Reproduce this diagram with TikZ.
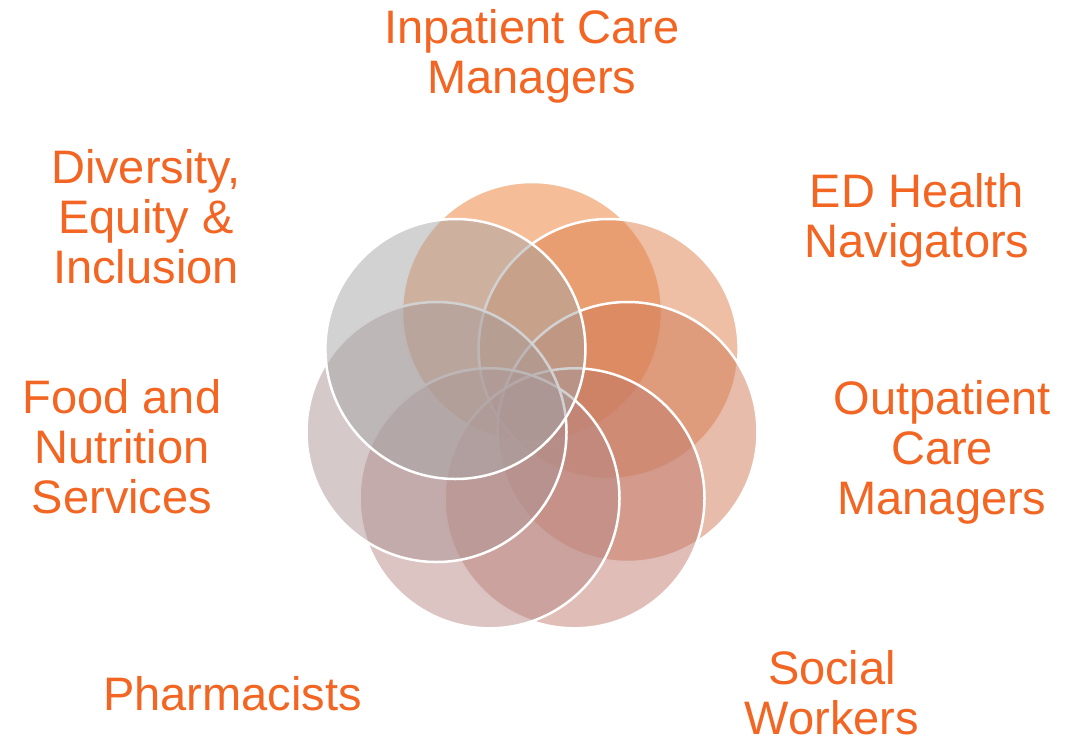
\documentclass[tikz,border=0pt]{standalone}
\usepackage{fontspec}
\setmainfont{Liberation Sans}
\usepackage{tikz}
\usetikzlibrary{positioning}

\definecolor{labelorange}{HTML}{F26522}
\definecolor{inpatient}{HTML}{ED7D31}
\definecolor{ednav}{HTML}{DD7F4B}
\definecolor{outpatient}{HTML}{D17955}
\definecolor{social}{HTML}{C17B6F}
\definecolor{pharma}{HTML}{B78985}
\definecolor{food}{HTML}{AD9395}
\definecolor{diversity}{HTML}{A5A5A5}

\tikzset{
    ring/.style={circle, draw=white, line width=2.5pt, fill opacity=0.5, draw opacity=1, minimum size=260pt, inner sep=0pt},
    label/.style={text=labelorange, align=center, inner sep=0pt, font=\fontsize{47}{50}\selectfont}
}

\begin{document}
\begin{tikzpicture}[x=1pt, y=-1pt]
    \useasboundingbox (0,0) rectangle (1081,739);

    % circles, clockwise from the top
    \node [ring, fill=inpatient] (inpatientc) at (532,312) {};
    \node [ring, fill=ednav] (ednavc) at (608.6,349) {};
    \node [ring, fill=outpatient] (outpatientc) at (627.5,432) {};
    \node [ring, fill=social] (socialc) at (574.5,498.3) {};
    \node [ring, fill=pharma] (pharmac) at (489.5,498.3) {};
    \node [ring, fill=food] (foodc) at (436.5,432) {};
    \node [ring, fill=diversity] (diversityc) at (455.4,349) {};

    % labels
    \node [label] (inpatient) at (532,56.4) {Inpatient Care\\Managers};
    \node [label] (ednav) at (917,220) {ED Health\\Navigators};
    \node [label] (outpatient) at (942,452) {Outpatient\\Care\\Managers};
    \node [label] (social) at (832,692.5) {Social\\Workers};
    \node [label] (pharma) at (232.5,694) {Pharmacists};
    \node [label] (food) at (122,446.5) {Food and\\Nutrition\\Services};
    \node [label] (diversity) at (146,217) {Diversity,\\Equity \&\\Inclusion};
\end{tikzpicture}
\end{document}
